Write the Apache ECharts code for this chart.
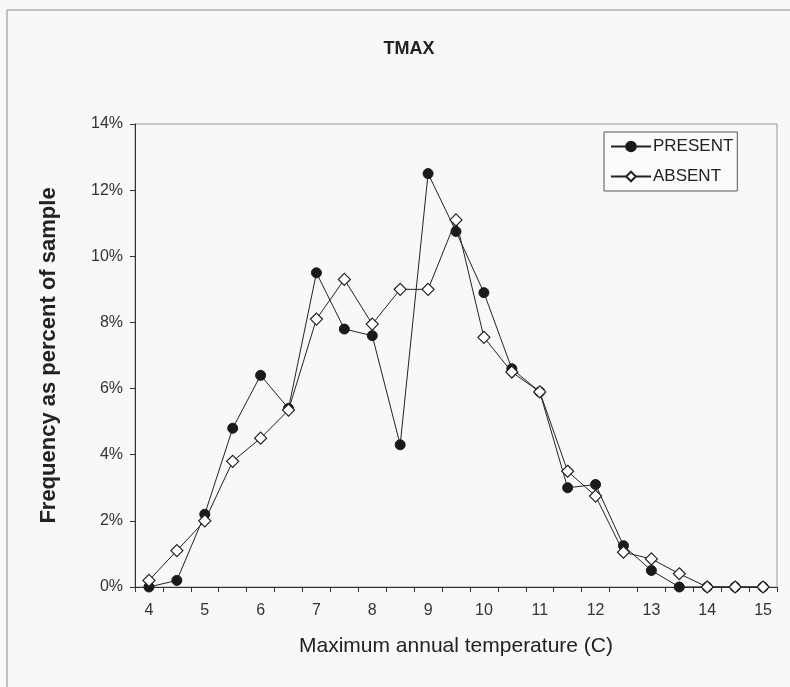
<!DOCTYPE html>
<html>
<head>
<meta charset="utf-8">
<script src="https://cdn.jsdelivr.net/npm/echarts@6/dist/echarts.min.js"></script>
<style>
  html, body { margin: 0; padding: 0; background: #f8f8f8; }
  #chart { width: 790px; height: 687px; }
</style>
</head>
<body>
<div id="chart"></div>
<script>
// Temperature bins (C), every half degree
const temps = ['4','4.5','5','5.5','6','6.5','7','7.5','8','8.5','9','9.5','10','10.5','11','11.5','12','12.5','13','13.5','14','14.5','15'];
// Frequency as percent of sample
const present = [0.0, 0.2, 2.2, 4.8, 6.4, 5.4, 9.5, 7.8, 7.6, 4.3, 12.5, 10.75, 8.9, 6.6, 5.9, 3.0, 3.1, 1.25, 0.5, 0.0, 0.0, 0.0, 0.0];
const absent  = [0.2, 1.1, 2.0, 3.8, 4.5, 5.35, 8.1, 9.3, 7.95, 9.0, 9.0, 11.1, 7.55, 6.5, 5.9, 3.5, 2.75, 1.05, 0.85, 0.4, 0.0, 0.0, 0.0];
const yTicks = [0, 2, 4, 6, 8, 10, 12, 14];

const chart = echarts.init(document.getElementById('chart'));
const font = 'Liberation Sans, Arial, sans-serif';

chart.setOption({
  backgroundColor: '#f8f8f8',
  animation: false,
  title: {
    text: 'TMAX',
    left: 404, top: 35, textAlign: 'center',
    textStyle: { fontFamily: font, fontSize: 18, fontWeight: 'bold', color: '#222' }
  },
  legend: {
    orient: 'vertical',
    left: 604, top: 132,
    itemWidth: 40, itemHeight: 12, itemGap: 13,
    padding: [6, 4, 6, 6],
    borderColor: '#555', borderWidth: 1,
    backgroundColor: '#fbfbfb',
    textStyle: { fontFamily: font, fontSize: 17, color: '#222', padding: [0, 0, 0, -3] },
    data: ['PRESENT', 'ABSENT']
  },
  grid: {
    left: 135, right: 13, top: 124, bottom: 100,
    show: true, borderColor: '#999', borderWidth: 1, backgroundColor: 'transparent'
  },
  graphic: [
    { type: 'line', shape: { x1: 7, y1: 10, x2: 790, y2: 10 }, style: { stroke: '#888', lineWidth: 1 } },
    { type: 'line', shape: { x1: 7, y1: 10, x2: 7, y2: 687 }, style: { stroke: '#888', lineWidth: 1 } }
  ],
  xAxis: {
    type: 'category',
    data: temps,
    boundaryGap: true,
    name: 'Maximum annual temperature (C)',
    nameLocation: 'middle', nameGap: 49,
    nameTextStyle: { fontFamily: font, fontSize: 21, color: '#222' },
    axisLine: { lineStyle: { color: '#333', width: 1 } },
    axisTick: { show: true, interval: 0, alignWithLabel: false, length: 5, lineStyle: { color: '#333' } },
    axisLabel: { interval: 1, fontFamily: font, fontSize: 16, color: '#333', margin: 16 },
    splitLine: { show: false }
  },
  yAxis: {
    type: 'value',
    min: yTicks[0], max: yTicks[yTicks.length - 1], interval: 2,
    name: 'Frequency as percent of sample',
    nameLocation: 'middle', nameGap: 75,
    nameTextStyle: { fontFamily: font, fontSize: 22, fontWeight: 'bold', color: '#222' },
    axisLine: { show: true, lineStyle: { color: '#333', width: 1 } },
    axisTick: { show: true, length: 5, lineStyle: { color: '#333' } },
    axisLabel: { formatter: v => v + '%', fontFamily: font, fontSize: 16, color: '#333', margin: 12 },
    splitLine: { show: false }
  },
  series: [
    {
      name: 'PRESENT', type: 'line', data: present,
      symbol: 'circle', symbolSize: 10,
      lineStyle: { color: '#222', width: 1 },
      itemStyle: { color: '#1a1a1a', borderColor: '#1a1a1a', borderWidth: 1 },
      z: 3
    },
    {
      name: 'ABSENT', type: 'line', data: absent,
      symbol: 'diamond', symbolSize: 12,
      lineStyle: { color: '#222', width: 1 },
      itemStyle: { color: '#ffffff', borderColor: '#222', borderWidth: 1.2 },
      z: 4
    }
  ]
});
</script>
</body>
</html>
